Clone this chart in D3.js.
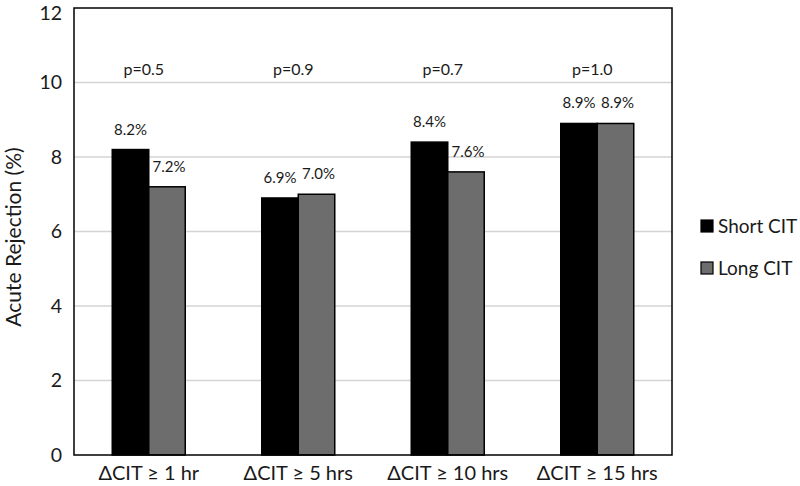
<!DOCTYPE html>
<html><head><meta charset="utf-8">
<script src="https://cdn.jsdelivr.net/npm/d3@7"></script>
<style>body{margin:0;background:#fff}svg{display:block}</style>
</head><body>
<svg id="chart" width="800" height="486"></svg>
<script>
const categories = ["ΔCIT ≥ 1 hr","ΔCIT ≥ 5 hrs","ΔCIT ≥ 10 hrs","ΔCIT ≥ 15 hrs"];
const seriesNames = ["Short CIT","Long CIT"];
const shortCIT = [8.2, 6.9, 8.4, 8.9];
const longCIT = [7.2, 7.0, 7.6, 8.9];
const pValues = ["p=0.5","p=0.9","p=0.7","p=1.0"];
const yTicks = [0,2,4,6,8,10,12];
const colors = ["#000000","#6d6d6d"];

const svg = d3.select("#chart");
const margin = {left:74, top:8, right:128, bottom:31};
const W = 800, H = 486;
const x0 = d3.scaleBand().domain(categories).range([margin.left, W-margin.right]).paddingInner(0).paddingOuter(0);
const x1 = d3.scaleBand().domain(seriesNames).range([0, 73]);
const y = d3.scaleLinear().domain([0,12]).range([H-margin.bottom, margin.top]);
const font = "Lato, 'Open Sans', sans-serif";

// gridlines
svg.append("g").selectAll("line").data(yTicks.filter(t=>t>0&&t<12)).join("line")
  .attr("x1", margin.left).attr("x2", W-margin.right)
  .attr("y1", d=>y(d)).attr("y2", d=>y(d))
  .attr("stroke","#d4d4d4").attr("stroke-width",1.5);

// y axis labels via axis
const yAxis = svg.append("g").attr("transform",`translate(${margin.left},0)`)
  .call(d3.axisLeft(y).tickValues(yTicks).tickSize(0).tickPadding(12));
yAxis.select(".domain").remove();
yAxis.selectAll("text").attr("font-family",font).attr("font-size",19.5).attr("fill","#1a1a1a");
yAxis.selectAll(".tick").filter(d=>d===12).select("text").attr("dy","0.6em");

// x axis labels
const xAxis = svg.append("g").attr("transform",`translate(0,${H-margin.bottom})`)
  .call(d3.axisBottom(x0).tickSize(0).tickPadding(11));
xAxis.select(".domain").remove();
xAxis.selectAll("text").attr("font-family",font).attr("font-size",20).attr("fill","#1a1a1a");

// bars
const data = categories.map((c,i)=>({cat:c, vals:[shortCIT[i], longCIT[i]], p:pValues[i]}));
const groups = svg.append("g").selectAll("g").data(data).join("g")
  .attr("transform", d=>`translate(${x0(d.cat)+x0.bandwidth()/2-36.5},0)`);
groups.selectAll("rect").data(d=>d.vals.map((v,j)=>({v, s:seriesNames[j], j}))).join("rect")
  .attr("x", d=>x1(d.s)).attr("width", x1.bandwidth())
  .attr("y", d=>y(d.v)).attr("height", d=>y(0)-y(d.v))
  .attr("fill", d=>colors[d.j]).attr("stroke","#000").attr("stroke-width",1.5);
groups.selectAll("text.val").data(d=>d.vals.map((v,j)=>({v, s:seriesNames[j], j}))).join("text")
  .attr("class","val")
  .attr("x", d=>x1(d.s)+x1.bandwidth()/2 + (d.j===1?2:0)).attr("y", d=>y(d.v)-15)
  .attr("text-anchor","middle").attr("font-family",font).attr("font-size",15).attr("fill","#1a1a1a")
  .text(d=>d.v.toFixed(1)+"%");
groups.append("text")
  .attr("x", 36.5-5).attr("y", y(10.2))
  .attr("text-anchor","middle").attr("font-family",font).attr("font-size",16).attr("fill","#1a1a1a")
  .text(d=>d.p);

// frame
svg.append("rect").attr("x",margin.left).attr("y",margin.top)
  .attr("width",W-margin.right-margin.left).attr("height",H-margin.bottom-margin.top)
  .attr("fill","none").attr("stroke","#000").attr("stroke-width",1.5);

// y title
svg.append("text").attr("transform",`translate(21,237) rotate(-90)`)
  .attr("text-anchor","middle").attr("font-family",font).attr("font-size",21).attr("fill","#1a1a1a")
  .text("Acute Rejection (%)");

// legend
const leg = svg.append("g").selectAll("g").data(seriesNames).join("g")
  .attr("transform",(d,i)=>`translate(701,${220+i*42})`);
leg.append("rect").attr("width",12).attr("height",12).attr("fill",(d,i)=>colors[i]).attr("stroke","#000").attr("stroke-width",1.2);
leg.append("text").attr("x",17).attr("y",13).attr("font-family",font).attr("font-size",19).attr("fill","#1a1a1a").text(d=>d);
</script>
</body></html>
